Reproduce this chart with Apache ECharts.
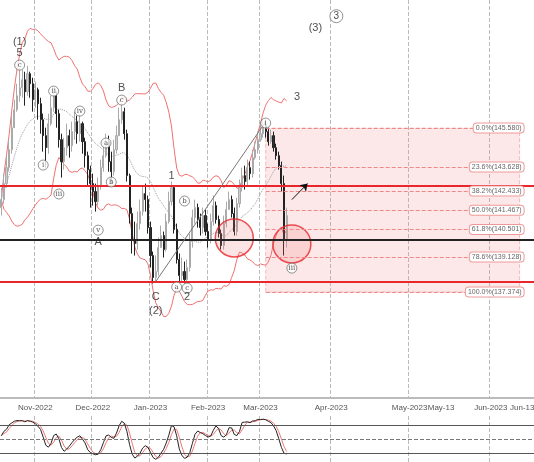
<!DOCTYPE html>
<html><head><meta charset="utf-8">
<script src="https://cdn.jsdelivr.net/npm/echarts@6/dist/echarts.min.js"></script>
<style>html,body{margin:0;padding:0;background:#fff}#main{width:534px;height:462px}</style>
</head><body><div id="main"></div>
<script>
var closes = [142.0,142.8,143.6,144.5,145.6,146.5,147.2,147.6,
  148.0,147.4,148.3,147.8,147.0,147.5,
  146.8,146.0,145.2,144.6,145.8,146.6,
  147.2,146.3,145.0,143.9,144.6,
  145.2,144.7,145.4,145.9,145.3,145.8,
  144.9,144.2,143.5,142.8,142.4,
  141.9,142.7,143.6,144.2,144.9,
  143.9,143.4,144.5,145.2,146.0,
  146.4,145.3,143.2,141.3,140.0,
  139.8,140.8,141.4,142.3,142.0,140.6,139.2,
  138.1,138.4,139.6,140.2,139.5,140.9,141.9,
  142.6,140.5,139.0,138.2,138.4,138.0,
  138.6,139.9,141.1,141.6,141.0,140.6,141.2,140.4,140.0,
  140.9,141.7,141.0,140.3,139.7,140.8,141.5,142.0,141.3,140.4,
  141.8,142.6,143.2,142.9,143.6,143.3,144.1,144.5,145.0,145.3,
  145.7,145.4,144.9,145.2,144.6,144.2,143.7,142.8,140.0,141.2];
var highs = [142.6,143.3,144.2,145.0,146.2,147.0,147.8,148.6,
  148.5,148.4,148.7,148.4,148.1,147.9,
  147.6,147.1,146.3,145.6,146.3,147.2,
  147.6,147.4,146.5,145.3,145.1,
  145.8,145.5,145.9,146.4,146.2,146.3,
  145.9,145.1,144.4,143.7,143.3,
  142.8,143.1,144.0,144.7,145.3,
  145.2,144.4,145.0,145.7,146.6,
  146.8,146.6,145.5,143.3,141.6,
  140.9,141.4,142.0,142.7,142.8,142.2,140.9,
  139.4,139.2,140.1,140.7,140.4,141.3,142.4,
  142.9,142.7,140.8,139.3,139.1,138.9,
  139.0,140.3,141.5,142.0,141.8,141.3,141.6,141.5,140.8,
  141.3,142.2,141.9,141.2,140.5,141.2,141.9,142.4,142.2,141.6,
  142.1,143.0,143.6,143.7,144.0,143.9,144.5,144.9,145.4,145.8,
  146.0,145.9,145.6,145.5,145.4,144.8,144.4,143.9,143.2,141.6];
var lows = [141.2,141.8,142.6,143.4,144.3,145.7,146.4,146.9,
  147.1,146.7,147.2,147.1,146.4,146.6,
  146.0,145.3,144.4,143.6,144.3,145.7,
  146.4,145.6,144.6,143.1,143.5,
  144.2,144.1,144.4,145.0,144.8,144.9,
  144.3,143.6,142.7,141.6,141.7,
  141.4,141.7,142.5,143.4,144.1,
  143.4,142.8,143.2,144.3,145.2,
  145.8,145.0,142.9,140.8,139.3,
  139.2,139.5,140.5,141.2,141.4,140.3,138.6,
  137.8,137.9,138.2,139.6,139.1,139.4,140.8,
  141.7,140.3,138.8,137.9,137.9,137.8,
  137.9,138.4,139.6,140.8,140.6,140.2,140.3,140.2,139.6,
  139.8,140.7,140.8,140.1,139.5,139.5,140.6,141.5,141.1,140.2,
  140.2,141.6,142.4,142.5,142.7,143.0,143.1,144.0,144.3,144.9,
  145.1,145.1,144.7,144.8,144.4,144.0,143.5,142.4,139.2,139.6];
var fibPct = ['0.0%','23.6%','38.2%','50.0%','61.8%','78.6%','100.0%'];
var fibVal = [145.580,143.628,142.433,141.467,140.501,139.128,137.374];
var hLines = [[142.68,'#e8262b'],[139.97,'#222'],[137.87,'#e8262b']];
// [index, price, text, circled]
var waves = [[7,149.88,'(1)',0],[7,149.33,'5',0],[7,148.73,'c',1],[20,147.43,'ii',1],[16,143.73,'i',1],
  [22,142.28,'iii',1],[30,146.43,'iv',1],[37,140.47,'v',1],[37,139.87,'A',0],[40,144.83,'a',1],
  [42,142.88,'b',1],[46,147.58,'B',0],[46,146.98,'c',1],[65,143.18,'1',0],[70,141.93,'b',1],
  [59,137.12,'C',0],[59,136.42,'(2)',0],[67,137.62,'a',1],[71,137.57,'c',1],[71,137.12,'2',0],
  [101,145.83,'i',1],[113,147.13,'3',0],[111,138.57,'iii',1],[120,150.58,'(3)',0]];
var circles = [[89,140.08],[111,139.78]];

// dates: weekdays Oct 13 2022 - Mar 15 2023, then calendar days to Jun 17 2023
var dates = [];
var d = new Date(2022, 9, 13);
while (d <= new Date(2023, 2, 15)) { if (d.getDay() % 6 !== 0) dates.push(new Date(d)); d.setDate(d.getDate() + 1); }
while (d <= new Date(2023, 5, 17)) { dates.push(new Date(d)); d.setDate(d.getDate() + 1); }
var mon = ['Jan','Feb','Mar','Apr','May','Jun','Jul','Aug','Sep','Oct','Nov','Dec'];
var cats = dates.map(function (x) { return x.getFullYear() + '-' + (x.getMonth() + 1) + '-' + x.getDate(); });
function isMonthStart(i) { return i > 0 && dates[i].getMonth() !== dates[i - 1].getMonth(); }
function isMid(i) { var m = dates[i].getMonth(); return dates[i].getDate() === 13 && (m === 4 || m === 5); }
function labelOf(i) {
  if (isMonthStart(i)) return mon[dates[i].getMonth()] + '-' + dates[i].getFullYear();
  if (isMid(i)) return mon[dates[i].getMonth()] + '-13';
  return '';
}

var ohlc = closes.map(function (c, i) { return [i ? closes[i - 1] : c - 0.4, c, lows[i], highs[i]]; });

function sma(arr, n) {
  return arr.map(function (v, i) { var s = arr.slice(Math.max(0, i - n + 1), i + 1); return s.reduce(function (a, b) { return a + b; }, 0) / s.length; });
}
// bollinger 20
var up = [], mid = [], lo = [];
closes.forEach(function (c, i) {
  var s = closes.slice(Math.max(0, i - 19), i + 1), m = s.reduce(function (a, b) { return a + b; }, 0) / s.length;
  var sd = Math.sqrt(s.reduce(function (a, b) { return a + (b - m) * (b - m); }, 0) / s.length);
  mid.push(m); up.push(m + 2.2 * sd); lo.push(m - 2.2 * sd);
});
// slow stochastic 14,3,3
var fast = closes.map(function (c, i) {
  var h = Math.max.apply(null, highs.slice(Math.max(0, i - 13), i + 1));
  var l = Math.min.apply(null, lows.slice(Math.max(0, i - 13), i + 1));
  return h > l ? (c - l) / (h - l) * 100 : 50;
});
var k = sma(fast, 3), dd = sma(k, 3);

var fibStart = 101, fibEnd = cats.length - 6;
var myChart = echarts.init(document.getElementById('main'));
var option = {
  animation: false,
  textStyle: { fontFamily: 'Liberation Sans' },
  grid: [{ left: 0, right: 0, top: 0, height: 398, outerBoundsMode: 'none', containLabel: false },
    { left: 0, right: 0, top: 416, height: 46, outerBoundsMode: 'none', containLabel: false }],
  xAxis: [{
    type: 'category', data: cats, boundaryGap: true,
    axisLine: { lineStyle: { color: '#bbb', width: 2 } },
    axisTick: { show: false },
    axisLabel: { interval: function (i) { return labelOf(i) !== ''; }, formatter: function (v, i) { return labelOf(i); }, color: '#555', fontSize: 8, margin: 6, hideOverlap: false },
    splitLine: { show: true, interval: function (i) { return isMonthStart(i); }, lineStyle: { color: '#bbb', type: 'dashed' } }
  }, {
    type: 'category', data: cats, gridIndex: 1, axisLabel: { show: false }, axisTick: { show: false },
    axisLine: { lineStyle: { color: '#888' } },
    splitLine: { show: true, interval: function (i) { return isMonthStart(i); }, lineStyle: { color: '#bbb', type: 'dashed' } }
  }],
  yAxis: [{ min: 132.07, max: 151.99, show: false, splitLine: { show: false } },
    { gridIndex: 1, min: 0, max: 100, show: false }],
  series: [
    { type: 'line', data: up, symbol: 'none', lineStyle: { color: '#f07070', width: 1 }, z: 2 },
    { type: 'line', data: lo, symbol: 'none', lineStyle: { color: '#f07070', width: 1 }, z: 2 },
    { type: 'line', data: mid, symbol: 'none', lineStyle: { color: '#999', width: 1, type: 'dotted' }, z: 2 },
    { type: 'candlestick', data: ohlc, barWidth: 1.6, z: 3,
      itemStyle: { color: '#ccc', color0: '#333', borderColor: '#aaa', borderColor0: '#222' },
      markArea: { silent: true, itemStyle: { color: 'rgba(240,140,140,0.2)', borderColor: 'rgba(230,100,100,0.4)', borderWidth: 1, borderType: 'dashed' },
        data: [[{ coord: [fibStart, fibVal[0]] }, { coord: [fibEnd, fibVal[6]] }]] },
      markLine: { silent: true, symbol: 'none', animation: false, data:
        hLines.map(function (h) { return { yAxis: h[0], lineStyle: { color: h[1], width: 2, type: 'solid' }, label: { show: false } }; })
        .concat(fibVal.map(function (v, i) { return [{ coord: [fibStart, v], lineStyle: { color: '#e88', width: 1, type: 'dashed' },
          label: { show: true, position: 'insideEnd', distance: -4, formatter: fibPct[i] + '(' + v.toFixed(3) + ')', fontSize: 7, color: '#666',
            backgroundColor: '#fff', borderColor: '#e99', borderWidth: 1, borderRadius: 3, padding: [1, 2] } }, { coord: [fibEnd, v] }]; }))
        .concat([[{ coord: [59, 137.9], lineStyle: { color: '#777', width: 1, type: 'solid' }, label: { show: false } }, { coord: [101, 145.9] }],
          [{ coord: [111, 142.0], symbol: 'none', lineStyle: { color: '#111', width: 1, type: 'solid' }, label: { show: false } }, { coord: [117, 142.8], symbol: 'arrow', symbolSize: 7 }]])
      }
    },
    { type: 'scatter', data: circles, symbolSize: 38, z: 4, silent: true,
      itemStyle: { color: 'rgba(240,120,120,0.25)', borderColor: '#e8262b', borderWidth: 1.5 } },
    { type: 'scatter', z: 6, silent: true,
      data: waves.map(function (w) { return { value: [w[0], w[1]], symbolSize: w[3] ? 10 : 0,
        label: { show: true, position: 'inside', formatter: w[2], fontSize: w[3] ? 7 : 11, color: '#222', fontFamily: w[3] ? 'DejaVu Serif' : 'Liberation Sans' } }; })
        .concat([{ value: [128, 151.18], symbolSize: 13, label: { show: true, position: 'inside', formatter: '3', fontSize: 10, color: '#222' } }]),
      itemStyle: { color: '#fff', borderColor: '#555', borderWidth: 0.8 } },
    { type: 'line', xAxisIndex: 1, yAxisIndex: 1, data: dd, symbol: 'none', lineStyle: { color: '#e77', width: 1 },
      markLine: { silent: true, symbol: 'none', label: { show: false }, data: [
        { yAxis: 80, lineStyle: { color: '#555', type: 'solid', width: 1 } },
        { yAxis: 50, lineStyle: { color: '#777', type: 'dashed', width: 1 } },
        { yAxis: 20, lineStyle: { color: '#555', type: 'solid', width: 1 } }] } },
    { type: 'line', xAxisIndex: 1, yAxisIndex: 1, data: k, symbol: 'none', lineStyle: { color: '#222', width: 1 } }
  ]
};
option && myChart.setOption(option);
</script></body></html>
